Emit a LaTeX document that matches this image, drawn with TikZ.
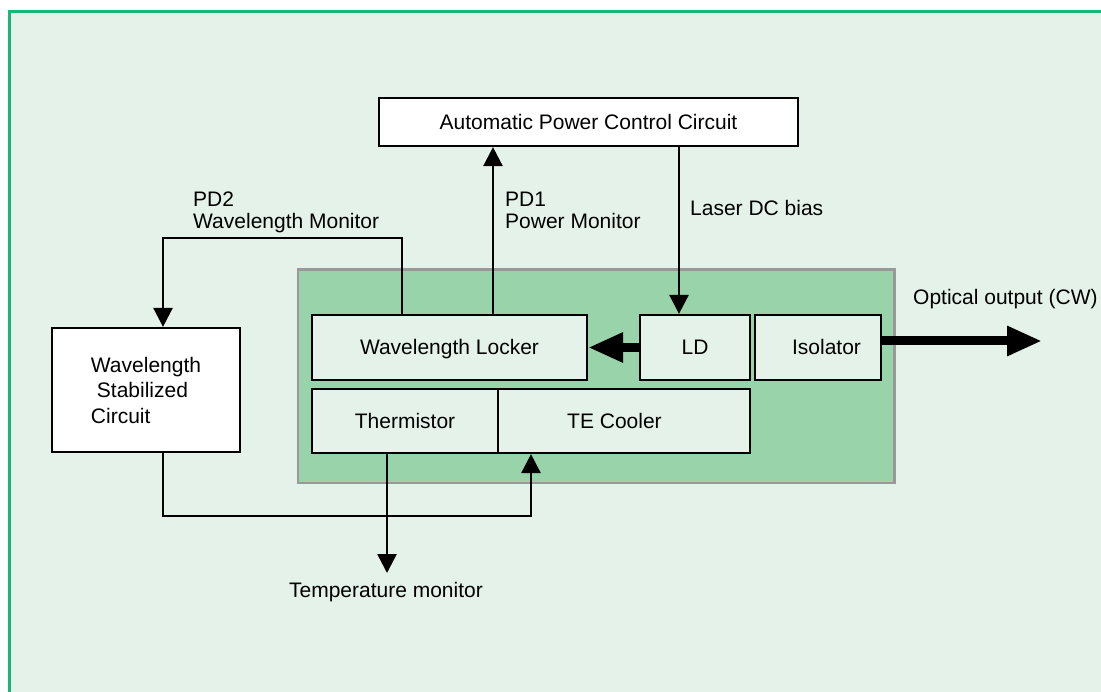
\documentclass[tikz,border=0pt]{standalone}
\usepackage{fontspec}
\setmainfont{Liberation Sans}
\usetikzlibrary{arrows.meta}
\definecolor{bgc}{HTML}{E5F2E9}
\definecolor{framec}{HTML}{1AB577}
\definecolor{modc}{HTML}{98D3A9}
\definecolor{modb}{HTML}{999999}
\begin{document}
\begin{tikzpicture}[x=1pt,y=-1pt, font=\fontsize{21}{22}\selectfont,
  boxbase/.style={draw=black, line width=2.2pt, inner sep=0pt, fill=bgc},
  box/.style={boxbase, text height=15pt, text depth=0pt},
  wire/.style={line width=2.6pt, -{Triangle[length=19pt,width=19pt]}},
  fat/.style={line width=9pt, -{Triangle[length=35pt,width=28pt]}},
  lbl/.style={inner sep=0pt, align=left}]
\useasboundingbox (0,0) rectangle (1101,692);
\clip (0,0) rectangle (1101,692);
\fill[white] (0,0) rectangle (1101,692);
\fill[bgc] (9.5,11.5) rectangle (1200,800);
\draw[framec, line width=3pt] (1200,11.5) -- (9.5,11.5) -- (9.5,800);
% module
\draw[modb, fill=modc, line width=2.5pt] (298,269.5) rectangle (894.5,483);
% boxes
\node[box, fill=white, minimum width=419pt, minimum height=48pt] (apc) at (588.5,122) {Automatic Power Control Circuit};
\node[boxbase, fill=white, minimum width=188pt, minimum height=124pt, align=left,
      font=\fontsize{21}{25.5}\selectfont] (wsc) at (146,390) {Wavelength\\\hspace*{6pt}Stabilized\\Circuit};
\node[box, minimum width=275pt, minimum height=65pt] (wl) at (449.5,347.5) {Wavelength Locker};
\node[box, minimum width=186pt, minimum height=64pt] (th) at (405,421) {Thermistor};
\node[box, minimum width=252pt, minimum height=64pt] (te) at (624,421) {TE Cooler\hspace*{19pt}};
\node[box, minimum width=110pt, minimum height=65pt] (ld) at (695,347.5) {LD};
\node[box, minimum width=126pt, minimum height=65pt] (iso) at (818,347.5) {\hspace*{17pt}Isolator};
% coordinates
\coordinate (xpd1) at (493,0);
\coordinate (xdc) at (679,0);
\coordinate (xpd2) at (402,0);
\coordinate (pd2a) at (402,238);
\coordinate (pd2b) at (163,238);
\coordinate (fb1) at (163,516);
\coordinate (fb2) at (531,516);
\coordinate (tm) at (387,573);
\coordinate (out) at (1042,341);
% connectors
\draw[wire] (xpd1 |- wl.north) -- (xpd1 |- apc.south);
\draw[wire] (xdc |- apc.south) -- (xdc |- ld.north);
\draw[wire] (xpd2 |- wl.north) -- (pd2a) -- (pd2b) -- (pd2b |- wsc.north);
\draw[wire] (fb1 |- wsc.south) -- (fb1) -- (fb2) -- (fb2 |- te.south);
\draw[wire] (tm |- th.south) -- (tm);
\draw[fat] (ld.west) -- (wl.east);
\draw[fat] (iso.east |- out) -- (out);
% labels
\node[lbl, anchor=north west] (pd2t) at (193,192) {PD2\\Wavelength Monitor};
\node[lbl, anchor=north west] (pd1t) at (505,192) {PD1\\Power Monitor};
\node[inner sep=0pt, anchor=base west] (dct) at (690,216) {Laser DC bias};
\node[inner sep=0pt, anchor=base west] (optt) at (913,305) {Optical output (CW)};
\node[inner sep=0pt, anchor=base] (tmt) at (386,597) {Temperature monitor};
\end{tikzpicture}
\end{document}
